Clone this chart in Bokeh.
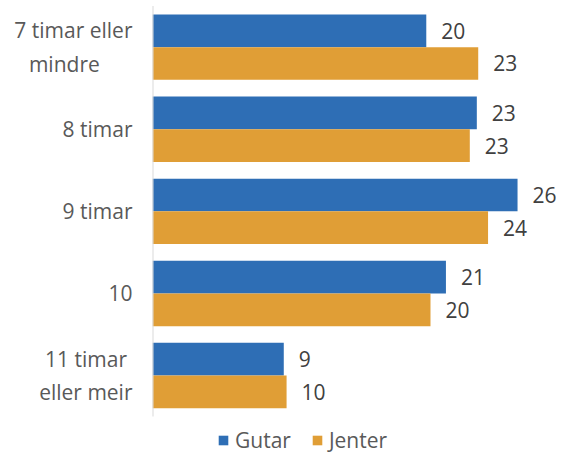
from bokeh.plotting import figure
from bokeh.models import ColumnDataSource, Range1d, Legend, LegendItem, FixedTicker
from bokeh.transform import dodge
from bokeh.core.properties import value
from bokeh.embed import file_html
from bokeh.resources import INLINE

NB = "\u00a0"
categories = ["7 timar eller mindre", "8 timar", "9 timar", "10", "11 timar eller meir"]
tick_labels = ["7 timar eller\nmindre" + NB * 6, "8 timar", "9 timar", "10",
               "11 timar" + NB + "\neller meir"]
gutar = [19.5, 23.1, 26.0, 20.9, 9.35]
jenter = [23.2, 22.6, 23.9, 19.8, 9.55]
series_names = ["Gutar", "Jenter"]
colors = ["#2E6EB5", "#E09E36"]

FONT = "Open Sans"
n = len(categories)
ypos = list(range(n))

source = ColumnDataSource(dict(
    y=ypos,
    cat=categories,
    gutar=gutar,
    jenter=jenter,
    gutar_lbl=[f"{v:.0f}" for v in gutar],
    jenter_lbl=[f"{v:.0f}" for v in jenter],
))

W, H = 556, 452
LEFT = 152
band_px = 82.1
top_pad = 5.6
px_per_unit = 14.04

p = figure(
    width=W, height=H,
    y_range=Range1d(n - 0.5 + (H - top_pad - n * band_px) / band_px, -0.5 - top_pad / band_px),
    x_range=Range1d(0, (W - LEFT) / px_per_unit),
    output_backend="svg", toolbar_location=None,
    min_border_left=LEFT, min_border_right=0, min_border_top=0, min_border_bottom=0,
)
p.outline_line_color = None
p.xgrid.visible = False
p.ygrid.visible = False
p.xaxis.visible = False

bw = 0.398
r1 = p.hbar(y=dodge("y", -bw / 2), right="gutar", left=0, height=bw,
            source=source, fill_color=colors[0], line_color=None)
r2 = p.hbar(y=dodge("y", bw / 2), right="jenter", left=0, height=bw,
            source=source, fill_color=colors[1], line_color=None)

for col, off in (("gutar", -bw / 2), ("jenter", bw / 2)):
    p.text(x=col, y=dodge("y", off), text=col + "_lbl", source=source,
           x_offset=15, text_align="left", text_baseline="middle",
           text_font=value(FONT), text_font_size="21px", text_color="#404040")

# vertical category axis line (only along the bar area)
p.segment(x0=[0], x1=[0], y0=[-0.5], y1=[n - 0.5], line_color="#D9D9D9", line_width=2)

ax = p.yaxis[0]
ax.ticker = FixedTicker(ticks=ypos)
ax.major_label_overrides = {i: t for i, t in zip(ypos, tick_labels)}
ax.axis_line_color = None
ax.major_tick_line_color = None
ax.minor_tick_line_color = None
ax.major_tick_out = 0
ax.major_tick_in = 0
ax.major_label_standoff = 20
ax.major_label_text_font = FONT
ax.major_label_text_font_size = "21px"
ax.major_label_text_color = "#595959"

legend = Legend(items=[LegendItem(label=series_names[0], renderers=[r1]),
                       LegendItem(label=series_names[1], renderers=[r2])],
                location=(65, -2), orientation="horizontal")
legend.border_line_color = None
legend.background_fill_alpha = 0
legend.padding = 0
legend.margin = 0
legend.spacing = 20
legend.label_standoff = 6
legend.glyph_width = 12
legend.glyph_height = 12
legend.label_text_font = FONT
legend.label_text_font_size = "21px"
legend.label_text_color = "#595959"
legend.label_height = 23
p.add_layout(legend, "center")

open("out.html", "w").write(file_html(p, INLINE))
